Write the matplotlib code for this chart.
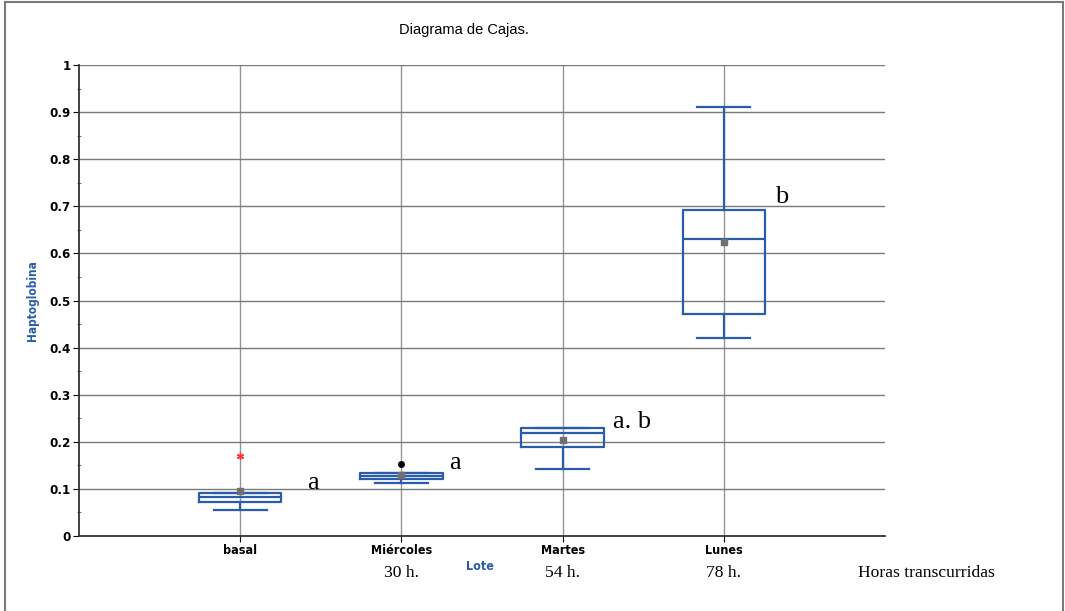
import matplotlib
matplotlib.use('Agg')
import matplotlib.pyplot as plt
from matplotlib.lines import Line2D
import numpy as np

categories = ['basal', 'Miércoles', 'Martes', 'Lunes']
hours = ['', '30 h.', '54 h.', '78 h.']
groups = ['a', 'a', 'a. b', 'b']

whislo = [0.055, 0.113, 0.142, 0.420]
q1 = [0.073, 0.121, 0.190, 0.471]
med = [0.082, 0.127, 0.219, 0.631]
q3 = [0.091, 0.133, 0.229, 0.693]
whishi = [0.091, 0.133, 0.229, 0.910]
means = [0.095, 0.129, 0.203, 0.624]

outlier_x = [1, 2]
outlier_y = [0.170, 0.152]

# positions of the group letters (x in category units, y in data units)
letter_x = [1.45, 2.33, 3.43, 4.36]
letter_y = [0.112, 0.155, 0.242, 0.72]

blue = '#2a5caa'
narrow = dict(family='DejaVu Sans', stretch='condensed', fontweight='bold')
serif = ['Liberation Serif', 'DejaVu Serif']

fig = plt.figure(figsize=(10.65, 6.11), dpi=100)
ax = fig.add_axes([79 / 1065, 75 / 611, 806 / 1065, 471 / 611])

positions = np.arange(1, len(categories) + 1)
stats = []
for i in range(len(categories)):
    stats.append(dict(whislo=whislo[i], q1=q1[i], med=med[i], q3=q3[i],
                      whishi=whishi[i], mean=means[i], fliers=[]))

lp = dict(color=blue, linewidth=1.6)
ax.bxp(stats, positions=positions, widths=0.51, showmeans=True, showfliers=False,
       boxprops=lp, whiskerprops=lp, capprops=lp, medianprops=lp,
       capwidths=0.33,
       meanprops=dict(marker='s', markersize=4.5, markerfacecolor='#707070',
                      markeredgecolor='#707070'), zorder=3)

ax.plot(outlier_x[:1], outlier_y[:1], marker=(6, 2, 0), color='#ff3030', markersize=5,
        markeredgewidth=1, linestyle='none', zorder=4)
ax.plot(outlier_x[1:], outlier_y[1:], marker='o', color='black', markersize=4,
        linestyle='none', zorder=4)

for i in range(len(categories)):
    ax.text(letter_x[i], letter_y[i], groups[i], family=serif, fontsize=19,
            ha='center', va='center')

ax.set_xlim(0, 5)
ax.set_ylim(0, 1)
ax.set_xticks(positions)
ax.set_xticklabels(categories, fontsize=9, **narrow)
yt = np.round(np.arange(0, 1.01, 0.1), 1)
ax.set_yticks(yt)
ax.set_yticklabels(['0' if v == 0 else ('1' if v == 1 else f'{v:g}') for v in yt],
                   fontsize=9.5, **narrow)
ax.set_yticks(np.arange(0.05, 1, 0.1), minor=True)
ax.tick_params(axis='y', which='minor', length=3, direction='inout', color='#555555')
ax.tick_params(axis='both', which='major', length=4, color='black', pad=2)

ax.grid(True, axis='y', which='major', color='#7a7a7a', linewidth=1)
ax.grid(True, axis='x', which='major', color='#959595', linewidth=1)
ax.set_axisbelow(True)
for s in ['top', 'right']:
    ax.spines[s].set_visible(False)
for s in ['left', 'bottom']:
    ax.spines[s].set_color('#333333')
    ax.spines[s].set_linewidth(1.3)

trans = ax.get_xaxis_transform()
for i in range(len(categories)):
    ax.text(positions[i], -0.079, hours[i], transform=trans, family=serif,
            fontsize=12.6, ha='center', va='center', clip_on=False)
ax.text(5.26, -0.079, 'Horas transcurridas', transform=trans, family=serif,
        fontsize=12.6, ha='center', va='center', clip_on=False)
ax.text(2.49, -0.064, 'Lote', transform=trans, fontsize=9, color=blue,
        ha='center', va='center', clip_on=False, **narrow)

fig.text(33 / 1065, 0.5 * (75 + 546) / 611, 'Haptoglobina', rotation=90,
         fontsize=8.5, color=blue, ha='center', va='center', **narrow)
fig.text(464 / 1065, 1 - 30 / 611, 'Diagrama de Cajas.', family='Liberation Sans',
         fontsize=10.5, ha='center', va='center')

# outer frame (left, top, right)
fc = '#7a7a7a'
fig.add_artist(Line2D([5 / 1065, 5 / 1065], [0, 1 - 2 / 611], color=fc, lw=1.5))
fig.add_artist(Line2D([5 / 1065, 1063 / 1065], [1 - 2 / 611, 1 - 2 / 611], color=fc, lw=1.5))
fig.add_artist(Line2D([1063 / 1065, 1063 / 1065], [0, 1 - 2 / 611], color=fc, lw=1.5))

fig.savefig('out.png', dpi=100)
